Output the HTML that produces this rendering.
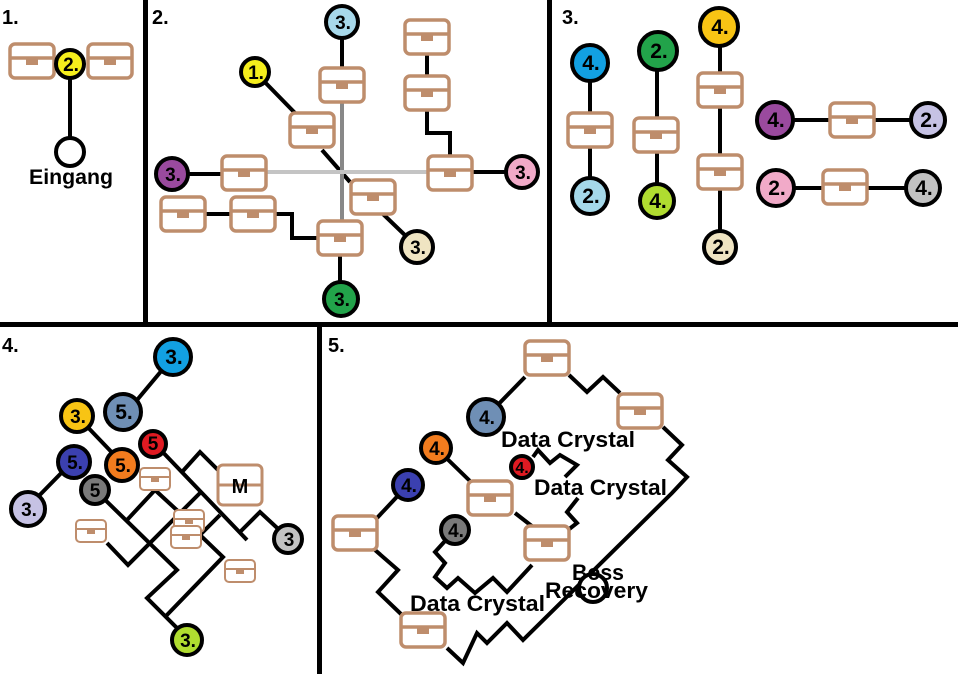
<!DOCTYPE html>
<html><head><meta charset="utf-8"><style>
html,body{margin:0;padding:0;background:#fff;}
svg{display:block;}
text{font-family:"Liberation Sans",sans-serif;font-weight:bold;}
</style></head><body>
<svg width="958" height="674" viewBox="0 0 958 674" xmlns="http://www.w3.org/2000/svg">
<defs>
<g id="ch">
<rect x="-22" y="-17" width="44" height="34" rx="5" fill="#fff" stroke="#be8d6c" stroke-width="3.5"/>
<line x1="-22" y1="-3" x2="22" y2="-3" stroke="#be8d6c" stroke-width="3.5"/>
<rect x="-6" y="-3" width="12" height="7" fill="#be8d6c"/>
</g>
<g id="chs">
<rect x="-15" y="-11" width="30" height="22" rx="4" fill="#fff" stroke="#be8d6c" stroke-width="2"/>
<line x1="-15" y1="-2" x2="15" y2="-2" stroke="#be8d6c" stroke-width="2"/>
<rect x="-4" y="-2" width="8" height="5" fill="#be8d6c"/>
</g>
</defs>
<rect width="958" height="674" fill="#fff"/>
<g fill="#000">
<rect x="143" y="0" width="5" height="325"/>
<rect x="547" y="0" width="5" height="325"/>
<rect x="0" y="322" width="958" height="5"/>
<rect x="317" y="325" width="5" height="349"/>
</g>
<g font-size="20">
<text x="2" y="24">1.</text><text x="152" y="24">2.</text><text x="562" y="24">3.</text>
<text x="2" y="352">4.</text><text x="328" y="352">5.</text>
</g>
<g stroke="#000" stroke-width="4" fill="none">
<line x1="70" y1="78" x2="70" y2="138"/>
<line x1="255" y1="72" x2="296" y2="114"/>
<line x1="342" y1="37" x2="342" y2="68"/>
<line x1="322" y1="150" x2="350" y2="182"/>
<line x1="383" y1="214" x2="410" y2="240"/>
<line x1="172" y1="174" x2="222" y2="174"/>
<line x1="205" y1="214" x2="231" y2="214"/>
<polyline points="275,214 292,214 292,238 318,238"/>
<line x1="340" y1="256" x2="340" y2="299"/>
<line x1="427" y1="55" x2="427" y2="75"/>
<polyline points="427,111 427,133 450,133 450,155"/>
<line x1="472" y1="172" x2="522" y2="172"/>
<line x1="590" y1="63" x2="590" y2="196"/>
<line x1="657" y1="51" x2="657" y2="201"/>
<line x1="720" y1="27" x2="720" y2="247"/>
<line x1="775" y1="120" x2="928" y2="120"/>
<line x1="776" y1="188" x2="923" y2="188"/>
<line x1="173" y1="357" x2="127" y2="412"/>
<line x1="77" y1="416" x2="122" y2="463"/>
<line x1="74" y1="460" x2="28" y2="507"/>
<line x1="154" y1="443" x2="247" y2="540"/>
<polyline points="182,472 200,452 218,470"/>
<polyline points="240,532 260,512 288,538"/>
<polyline points="95,490 177,570 147,598 187,638"/>
<polyline points="127,520 155,490 180,513"/>
<polyline points="107,543 128,565 200,493"/>
<polyline points="165,617 223,557 200,535 220,515"/>
<polyline points="569,375 587,392 603,377 620,393"/>
<polyline points="663,427 682,445 668,460 687,477 672,493 523,640 507,623 487,643 477,633 463,663 447,648"/>
<polyline points="375,550 398,570 378,592 402,615"/>
<line x1="525" y1="377" x2="486" y2="417"/>
<line x1="436" y1="448" x2="472" y2="483"/>
<line x1="408" y1="485" x2="377" y2="518"/>
<line x1="515" y1="513" x2="533" y2="527"/>
<polyline points="533,457 538,450 550,463 560,455 577,465 565,477"/>
<polyline points="578,498 567,512 577,523 568,530"/>
<polyline points="455,530 435,552 445,563 435,577 447,588 458,578 475,593 493,578 507,592 532,565"/>
</g>
<line x1="342" y1="102" x2="342" y2="221" stroke="#888" stroke-width="4"/>
<line x1="266" y1="172" x2="428" y2="172" stroke="#c4c4c4" stroke-width="4"/>
<use href="#ch" x="32" y="61"/><use href="#ch" x="110" y="61"/>
<use href="#ch" x="342" y="85"/><use href="#ch" x="312" y="130"/><use href="#ch" x="244" y="173"/>
<use href="#ch" x="183" y="214"/><use href="#ch" x="253" y="214"/><use href="#ch" x="340" y="238"/>
<use href="#ch" x="373" y="197"/><use href="#ch" x="427" y="37"/><use href="#ch" x="427" y="93"/><use href="#ch" x="450" y="173"/>
<use href="#ch" x="590" y="130"/><use href="#ch" x="656" y="135"/><use href="#ch" x="720" y="90"/><use href="#ch" x="720" y="172"/>
<use href="#ch" x="852" y="120"/><use href="#ch" x="845" y="187"/>
<use href="#chs" x="155" y="479"/><use href="#chs" x="91" y="531"/><use href="#chs" x="189" y="521"/><use href="#chs" x="186" y="537"/><use href="#chs" x="240" y="571"/>
<g transform="translate(240,485)">
<rect x="-22" y="-20" width="44" height="40" rx="5" fill="#fff" stroke="#be8d6c" stroke-width="3"/>
<line x1="-22" y1="0" x2="22" y2="0" stroke="#be8d6c" stroke-width="3"/>
<text x="0" y="8" font-size="20" text-anchor="middle">M</text>
</g>
<use href="#ch" x="547" y="358"/><use href="#ch" x="640" y="411"/><use href="#ch" x="490" y="498"/>
<use href="#ch" x="547" y="543"/><use href="#ch" x="355" y="533"/><use href="#ch" x="423" y="630"/>
<g stroke="#000" stroke-width="4">
<circle cx="70" cy="64" r="14" fill="#f5ee1c"/>
<circle cx="70" cy="152" r="14" fill="#fff"/>
<circle cx="342" cy="22" r="16" fill="#a7d8ea"/>
<circle cx="255" cy="72" r="14" fill="#f5ee1c"/>
<circle cx="172" cy="174" r="16" fill="#9a4a9e"/>
<circle cx="522" cy="172" r="16" fill="#f1aac8"/>
<circle cx="417" cy="247" r="16" fill="#efe4c2"/>
<circle cx="341" cy="299" r="17" fill="#22a34a"/>
<circle cx="590" cy="63" r="18" fill="#12a0e2"/>
<circle cx="590" cy="196" r="18" fill="#a5d9ea"/>
<circle cx="658" cy="51" r="19" fill="#22a34a"/>
<circle cx="657" cy="201" r="17" fill="#b0dc30"/>
<circle cx="719" cy="27" r="19" fill="#f8c414"/>
<circle cx="720" cy="247" r="16" fill="#efe4c2"/>
<circle cx="775" cy="120" r="18" fill="#9a4a9e"/>
<circle cx="928" cy="120" r="17" fill="#c6c2e4"/>
<circle cx="776" cy="188" r="18" fill="#f1aac8"/>
<circle cx="923" cy="188" r="17" fill="#c2c2c2"/>
<circle cx="173" cy="357" r="18" fill="#12a0e2"/>
<circle cx="123" cy="412" r="18" fill="#6f8fb5"/>
<circle cx="77" cy="416" r="16" fill="#f8c414"/>
<circle cx="153" cy="444" r="13" fill="#e01a22"/>
<circle cx="74" cy="462" r="16" fill="#3b40b0"/>
<circle cx="122" cy="465" r="16" fill="#f27c1e"/>
<circle cx="95" cy="490" r="14" fill="#7a7a7a"/>
<circle cx="28" cy="509" r="17" fill="#c6c2e4"/>
<circle cx="288" cy="539" r="14" fill="#c2c2c2"/>
<circle cx="187" cy="640" r="15" fill="#b0dc30"/>
<circle cx="486" cy="417" r="18" fill="#6f8fb5"/>
<circle cx="436" cy="448" r="15" fill="#f27c1e"/>
<circle cx="522" cy="467" r="11" fill="#e01a22"/>
<circle cx="408" cy="485" r="15" fill="#3b40b0"/>
<circle cx="455" cy="530" r="14" fill="#7a7a7a"/>
<circle cx="593" cy="588" r="14" fill="#fff"/>
</g>
<g font-size="19" text-anchor="middle" fill="#000">
<text x="71" y="71">2.</text>
<text x="343" y="29">3.</text><text x="256" y="79">1.</text><text x="173" y="181">3.</text>
<text x="523" y="179">3.</text><text x="418" y="254">3.</text><text x="342" y="306">3.</text>
<g font-size="21">
<text x="591" y="70">4.</text><text x="591" y="203">2.</text><text x="659" y="58">2.</text><text x="658" y="208">4.</text>
<text x="720" y="34">4.</text><text x="721" y="254">2.</text><text x="776" y="127">4.</text><text x="929" y="127">2.</text>
<text x="777" y="195">2.</text><text x="924" y="195">4.</text>
<text x="174" y="364">3.</text><text x="124" y="419">5.</text>
</g>
<text x="78" y="423">3.</text><text x="153" y="450">5</text><text x="75" y="469">5.</text><text x="123" y="472">5.</text>
<text x="95" y="497">5</text><text x="29" y="516">3.</text><text x="289" y="546">3</text><text x="188" y="647">3.</text>
<text x="487" y="424">4.</text><text x="437" y="455">4.</text><text x="522" y="473" font-size="16">4.</text>
<text x="409" y="492">4.</text><text x="456" y="537">4.</text>
</g>
<g font-size="22" fill="#000">
<text x="29" y="184" font-size="21" textLength="84" lengthAdjust="spacingAndGlyphs">Eingang</text>
<text x="501" y="447" textLength="134" lengthAdjust="spacingAndGlyphs">Data Crystal</text>
<text x="534" y="495" textLength="133" lengthAdjust="spacingAndGlyphs">Data Crystal</text>
<text x="410" y="611" textLength="135" lengthAdjust="spacingAndGlyphs">Data Crystal</text>
<text x="572" y="580" textLength="52" lengthAdjust="spacingAndGlyphs">Boss</text>
<text x="545" y="598" textLength="103" lengthAdjust="spacingAndGlyphs">Recovery</text>
</g>
</svg>
</body></html>
